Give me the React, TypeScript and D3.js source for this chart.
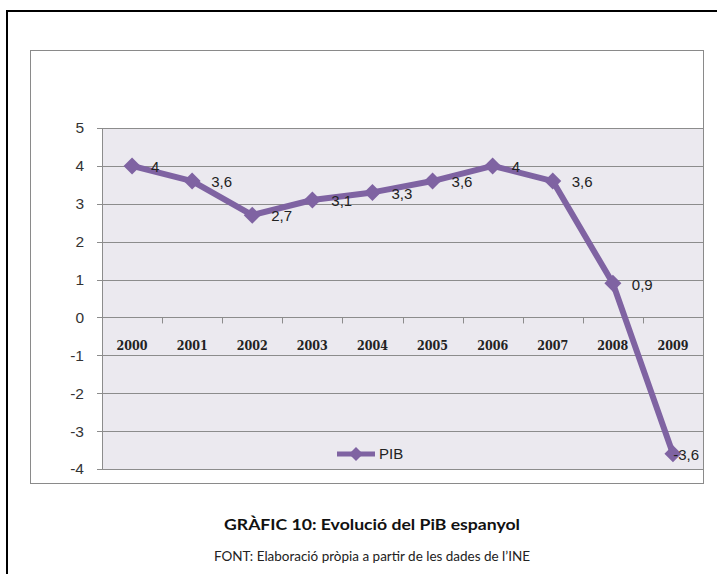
import * as d3 from "d3";

// Spanish GDP growth (%)
const years = ["2000", "2001", "2002", "2003", "2004", "2005", "2006", "2007", "2008", "2009"];
const pib = [4, 3.6, 2.7, 3.1, 3.3, 3.6, 4, 3.6, 0.9, -3.6];
const yTicks = [5, 4, 3, 2, 1, 0, -1, -2, -3, -4];
const seriesName = "PIB";
const title = "GRÀFIC 10: Evolució del PiB espanyol";
const source = "FONT: Elaboració pròpia a partir de les dades de l’INE";

const W = 717;
const H = 574;
const plot = { left: 102, right: 703, top: 128, bottom: 469 };
const purple = "#7f63a2";
const grid = "#8c8c8c";
const labelFont = "Liberation Sans, Arial, sans-serif";

const fmt = (v: number) => String(v).replace(".", ",");

function diamond(cx: number, cy: number, r: number) {
  return `M${cx},${cy - r}L${cx + r},${cy}L${cx},${cy + r}L${cx - r},${cy}Z`;
}

export default function App() {
  const x = d3.scaleBand<string>().domain(years).range([plot.left, plot.right]);
  const y = d3.scaleLinear().domain([-4, 5]).range([plot.bottom, plot.top]);
  const cx = (d: string) => (x(d) ?? 0) + x.bandwidth() / 2;

  const line = d3
    .line<number>()
    .x((_, i) => cx(years[i]))
    .y((d) => y(d));

  const boundaries = d3.range(years.length + 1).map((i) => plot.left + i * x.bandwidth());

  return (
    <svg
      width={W}
      height={H}
      style={{ position: "absolute", left: 0, top: 0, background: "#fff" }}
    >
      {/* outer document frame */}
      <path d={`M7,${H}V11H${W}`} fill="none" stroke="#000" strokeWidth={2} />

      {/* chart box */}
      <rect x={30.5} y={50.5} width={673} height={433} fill="#fff" stroke="#8a8a8a" strokeWidth={1} />

      {/* plot area */}
      <rect
        x={plot.left}
        y={plot.top}
        width={plot.right - plot.left}
        height={plot.bottom - plot.top}
        fill="#ebe9ef"
      />

      {/* gridlines + y ticks */}
      {yTicks.map((t) => (
        <g key={t}>
          <line
            x1={plot.left - 5}
            x2={plot.right}
            y1={Math.round(y(t)) + 0.5}
            y2={Math.round(y(t)) + 0.5}
            stroke={grid}
            strokeWidth={1}
          />
          <text
            x={84}
            y={y(t)}
            dy="0.35em"
            textAnchor="end"
            fontFamily={labelFont}
            fontSize={15.5}
            fill="#333"
          >
            {t}
          </text>
        </g>
      ))}

      {/* y axis */}
      <line x1={plot.left + 0.5} x2={plot.left + 0.5} y1={plot.top} y2={plot.bottom} stroke={grid} />

      {/* x axis ticks on zero line */}
      {boundaries.map((b, i) => (
        <line
          key={i}
          x1={Math.round(b) + 0.5}
          x2={Math.round(b) + 0.5}
          y1={y(0)}
          y2={y(0) + 6}
          stroke={grid}
        />
      ))}

      {/* category labels */}
      {years.map((d) => (
        <text
          key={d}
          x={cx(d)}
          y={346}
          dy="0.35em"
          textAnchor="middle"
          fontFamily="DejaVu Serif, serif"
          fontWeight="bold"
          fontSize={12}
          textLength={31}
          lengthAdjust="spacingAndGlyphs"
          fill="#222"
        >
          {d}
        </text>
      ))}

      {/* series */}
      <path d={line(pib) ?? ""} fill="none" stroke={purple} strokeWidth={6} strokeLinejoin="round" />
      {pib.map((v, i) => (
        <path key={i} d={diamond(cx(years[i]), y(v), 8.5)} fill={purple} />
      ))}

      {/* data labels */}
      {pib.map((v, i) => {
        const px = cx(years[i]) + 19;
        const w = fmt(v).length * 7.8;
        const overflow = px + w > plot.right - 3;
        return (
          <text
            key={i}
            x={overflow ? plot.right - 4 : px}
            y={y(v) + 1}
            dy="0.35em"
            textAnchor={overflow ? "end" : "start"}
            fontFamily={labelFont}
            fontSize={15}
            fill="#222"
          >
            {fmt(v)}
          </text>
        );
      })}

      {/* legend */}
      <line x1={337} x2={375} y1={454} y2={454} stroke={purple} strokeWidth={5} />
      <path d={diamond(356, 454, 7)} fill={purple} />
      <text x={379} y={454} dy="0.35em" fontFamily={labelFont} fontSize={15} fill="#222">
        {seriesName}
      </text>

      {/* caption */}
      <text
        x={372}
        y={530}
        textAnchor="middle"
        fontFamily="Lato, Open Sans, sans-serif"
        fontWeight="bold"
        fontSize={15}
        textLength={296}
        lengthAdjust="spacingAndGlyphs"
        fill="#111"
      >
        {title}
      </text>
      <text
        x={372}
        y={561}
        textAnchor="middle"
        fontFamily="Lato, Open Sans, sans-serif"
        fontSize={14}
        textLength={316}
        lengthAdjust="spacingAndGlyphs"
        fill="#222"
      >
        {source}
      </text>
    </svg>
  );
}
